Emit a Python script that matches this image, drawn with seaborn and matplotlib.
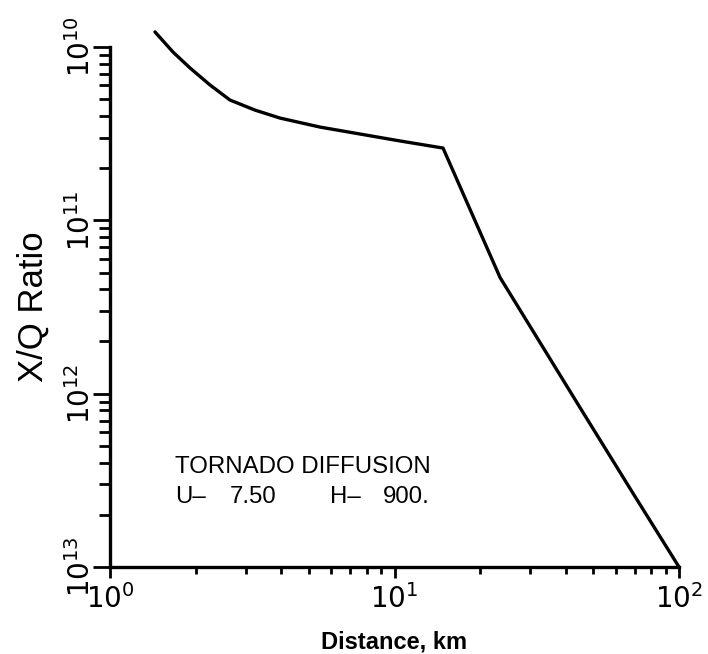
import numpy as np
import pandas as pd
import matplotlib
matplotlib.use("Agg")
import matplotlib.pyplot as plt
import seaborn as sns
from matplotlib.ticker import FixedLocator, NullFormatter

# Data (distance in km, X/Q ratio exponent)
distance_km = [1.439, 1.665, 1.911, 2.246, 2.641, 3.233, 3.958, 5.472, 7.563, 10.45, 14.81, 23.5, 44.87, 68.93, 100.0]
xq_exponent = [9.913, 10.029, 10.121, 10.219, 10.306, 10.364, 10.410, 10.462, 10.502, 10.542, 10.583, 11.33, 12.080, 12.575, 13.0]
xq_ratio = [10 ** (-e) for e in xq_exponent]

x_ticks = [1, 10, 100]
x_ticklabels = ["$10^0$", "$10^1$", "$10^2$"]
y_ticks = [1e-10, 1e-11, 1e-12, 1e-13]
y_ticklabels = ["$10^{10}$", "$10^{11}$", "$10^{12}$", "$10^{13}$"]

title_line1 = "TORNADO DIFFUSION"
param_u_label = "U\u2013"
param_u_value = "7.50"
param_h_label = "H\u2013"
param_h_value = "900."

sns.set_style("ticks")
plt.rcParams["font.family"] = ["Liberation Sans", "DejaVu Sans"]
plt.rcParams["text.color"] = "black"
plt.rcParams["axes.labelcolor"] = "black"
plt.rcParams["xtick.color"] = "black"
plt.rcParams["ytick.color"] = "black"
plt.rcParams["axes.edgecolor"] = "black"

fig = plt.figure(figsize=(7.08, 6.54), dpi=100)
ax = fig.add_axes([110 / 708, 1 - 567 / 654, (679 - 110) / 708, (567 - 47) / 654])

df = pd.DataFrame({"Distance": distance_km, "XQ": xq_ratio})
sns.lineplot(data=df, x="Distance", y="XQ", sort=False, estimator=None,
             color="black", linewidth=2.4, ax=ax, clip_on=False)

ax.set_xscale("log")
ax.set_yscale("log")
ax.set_xlim(1, 100)
ax.set_ylim(1e-13, 1e-10)

for s in ["top", "right"]:
    ax.spines[s].set_visible(False)
for s in ["left", "bottom"]:
    ax.spines[s].set_linewidth(2.4)

ax.set_xticks(x_ticks)
ax.set_xticklabels(x_ticklabels, fontsize=20)
ax.set_yticks(y_ticks)
ax.set_yticklabels(y_ticklabels, fontsize=20, rotation=90, va="center")

xminor = [m * 10 ** d for d in (0, 1) for m in range(2, 10)]
yminor = [m * 10 ** d for d in (-13, -12, -11) for m in range(2, 10)]
ax.xaxis.set_minor_locator(FixedLocator(xminor))
ax.yaxis.set_minor_locator(FixedLocator(yminor))
ax.xaxis.set_minor_formatter(NullFormatter())
ax.yaxis.set_minor_formatter(NullFormatter())

ax.tick_params(axis="x", which="major", length=8, width=2, direction="out", pad=4)
ax.tick_params(axis="x", which="minor", length=5, width=2, direction="out")
ax.tick_params(axis="y", which="major", length=12, width=2, direction="out", pad=-2)
ax.tick_params(axis="y", which="minor", length=8, width=2, direction="out")

ax.set_xlabel("Distance, km", fontsize=17, fontweight="bold", labelpad=12)
ax.set_ylabel("X/Q Ratio", fontsize=25, labelpad=12)
ax.grid(False)

def fx(px):
    return (px - 110) / 569.0

def fy(py):
    return (567 - py) / 520.0

ax.text(fx(175), fy(467), title_line1, fontsize=17.3, ha="left", va="center", transform=ax.transAxes)
ax.text(fx(175), fy(497), param_u_label, fontsize=17.3, ha="left", va="center", transform=ax.transAxes)
ax.text(fx(230), fy(497), param_u_value, fontsize=17.3, ha="left", va="center", transform=ax.transAxes)
ax.text(fx(330), fy(497), param_h_label, fontsize=17.3, ha="left", va="center", transform=ax.transAxes)
ax.text(fx(383), fy(497), param_h_value, fontsize=17.3, ha="left", va="center", transform=ax.transAxes)

fig.savefig("out.png", dpi=100, facecolor="white")
